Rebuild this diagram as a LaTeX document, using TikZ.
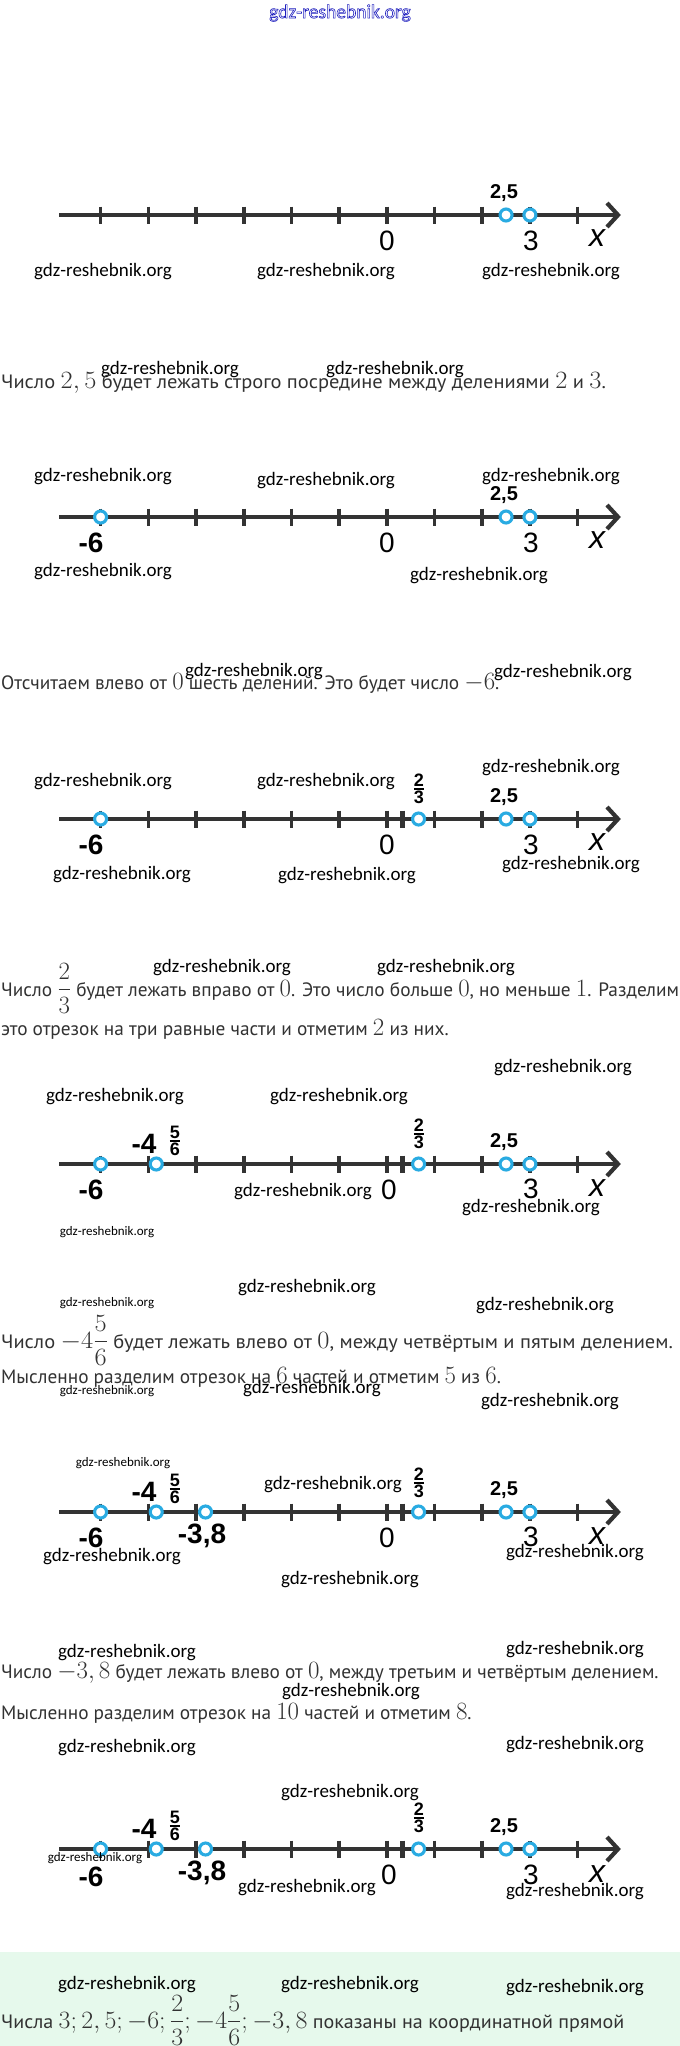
\documentclass[tikz,border=0pt]{standalone}
\usepackage[no-math]{fontspec}
\usepackage{amsmath}
\usepackage{graphicx}
\setmainfont{PT Sans}
\newfontfamily\wmfont{Carlito}
\newfontfamily\labfont{Liberation Sans}
\usetikzlibrary{calc}
\definecolor{axisgray}{RGB}{51,51,51}
\definecolor{ptblue}{RGB}{41,171,226}
\definecolor{txtgray}{RGB}{50,50,50}
\definecolor{boxgreen}{RGB}{230,249,236}
\definecolor{hdrblue}{RGB}{30,30,190}
\tikzset{
  axisln/.style={line width=4.2pt, draw=axisgray},
  tickln/.style={line width=3.6pt, draw=axisgray},
  thirdtick/.style={line width=5pt, draw=axisgray},
  ptmark/.style={circle, draw=ptblue, fill=white, line width=3.1pt, minimum size=12pt, inner sep=0pt},
  wm/.style={font=\wmfont\fontsize{19}{19}\selectfont, text=black, inner sep=0pt},
  wms/.style={font=\wmfont\fontsize{13}{13}\selectfont, text=black, inner sep=0pt},
  hdr/.style={font=\wmfont\fontsize{19.5}{19.5}\selectfont, text=hdrblue, inner sep=0pt},
  lab/.style={font=\labfont\fontsize{28}{28}\selectfont, text=black, inner sep=0pt},
  labb/.style={font=\labfont\bfseries\fontsize{28}{28}\selectfont, text=black, inner sep=0pt},
  labs/.style={font=\labfont\bfseries\fontsize{20}{20}\selectfont, text=black, inner sep=0pt},
  labf/.style={font=\labfont\bfseries\fontsize{18}{18}\selectfont, text=black, inner sep=0pt},
  labx/.style={font=\labfont\itshape\fontsize{32}{32}\selectfont, text=black, inner sep=0pt},
  body/.style={font=\fontsize{19.3}{24}\selectfont, text=txtgray, anchor=base west, inner sep=0pt},
}
\newcommand{\mth}[1]{{\fontsize{23.5}{24}\selectfont$#1$}}
\newcommand{\drawaxis}[2]{%
  \coordinate (#1o) at (386.8,#2);
  \coordinate (#1s) at (59,#2);
  \coordinate (#1e) at (618,#2);
  \draw[axisln] (#1s) -- ($(#1e)+(-2,0)$);
  \draw[axisln,line join=miter,miter limit=10] ($(#1e)+(-11,-12)$) -- (#1e) -- ($(#1e)+(-11,12)$);
  \foreach \k in {-6,...,4}{\draw[tickln] ($(#1o)+(\k*47.7,-8.5)$) -- ($(#1o)+(\k*47.7,8.5)$);}
}
\newcommand{\thirdmark}[1]{\draw[thirdtick] ($(#1o)+(15.9,-8.5)$) -- ($(#1o)+(15.9,8.5)$);}
\newcommand{\mkpt}[3]{\node[ptmark] (#1) at ($(#2o)+(#3*47.7,0)$) {};}
\newcommand{\vfrac}[2]{$\genfrac{}{}{1.6pt}{}{\hbox{#1}}{\hbox{#2}}$}
\begin{document}
\begin{tikzpicture}[x=1pt,y=-1pt]
\useasboundingbox (0,0) rectangle (680,2046);
\fill[white] (0,0) rectangle (680,2046);
\fill[boxgreen] (0,1952) rectangle (680,2046);

% header
\node[hdr] (hdr) at (340,13) {\special{pdf:literal direct 1 Tr 0.6 w}gdz-reshebnik.org\special{pdf:literal direct 0 Tr}};

% ---------- line 1 ----------
\drawaxis{a}{215}
\mkpt{a25}{a}{2.5}
\mkpt{a3}{a}{3}
\node[labs] (a25l) at (504,193) {2,5};
\node[lab] (a0l) at (387,241) {0};
\node[lab] (a3l) at (531,241) {3};
\node[labx] (axl) at (597,238) {x};
\node[wm] (w1) at (103,272) {gdz-reshebnik.org};
\node[wm] (w2) at (326,272) {gdz-reshebnik.org};
\node[wm] (w3) at (551,272) {gdz-reshebnik.org};

% text 1
\node[wm] (w4) at (170,370) {gdz-reshebnik.org};
\node[wm] (w5) at (395,370) {gdz-reshebnik.org};
\node[body] (t1) at (1,388) {\scalebox{1.06}[1]{Число \mth{2,5} будет лежать строго посредине между делениями \mth{2} и \mth{3}.}};

% ---------- line 2 ----------
\node[wm] (w6) at (103,477) {gdz-reshebnik.org};
\node[wm] (w7) at (326,481) {gdz-reshebnik.org};
\node[wm] (w8) at (551,477) {gdz-reshebnik.org};
\drawaxis{b}{517}
\mkpt{bm6}{b}{-6}
\mkpt{b25}{b}{2.5}
\mkpt{b3}{b}{3}
\node[labs] (b25l) at (504,495) {2,5};
\node[labb] (bm6l) at (91,543) {-6};
\node[lab] (b0l) at (387,543) {0};
\node[lab] (b3l) at (531,543) {3};
\node[labx] (bxl) at (597,540) {x};
\node[wm] (w9) at (103,572) {gdz-reshebnik.org};
\node[wm] (w10) at (479,576) {gdz-reshebnik.org};

% text 2
\node[wm] (w11) at (254,672) {gdz-reshebnik.org};
\node[wm] (w12) at (563,673) {gdz-reshebnik.org};
\node[body] (t2) at (1,689) {Отсчитаем влево от \mth{0} шесть делений. Это будет число \mth{-6}.};

% ---------- line 3 ----------
\node[wm] (w13) at (103,782) {gdz-reshebnik.org};
\node[wm] (w14) at (326,782) {gdz-reshebnik.org};
\node[wm] (w15) at (551,768) {gdz-reshebnik.org};
\drawaxis{c}{819}
\thirdmark{c}
\mkpt{cm6}{c}{-6}
\mkpt{c23}{c}{2/3}
\mkpt{c25}{c}{2.5}
\mkpt{c3}{c}{3}
\node[labf] (c23l) at (419,789) {\vfrac{2}{3}};
\node[labs] (c25l) at (504,797) {2,5};
\node[labb] (cm6l) at (91,845) {-6};
\node[lab] (c0l) at (387,845) {0};
\node[lab] (c3l) at (531,845) {3};
\node[labx] (cxl) at (597,842) {x};
\node[wm] (w16) at (122,875) {gdz-reshebnik.org};
\node[wm] (w17) at (347,876) {gdz-reshebnik.org};
\node[wm] (w18) at (571,865) {gdz-reshebnik.org};

% text 3
\node[wm] (w19) at (222,968) {gdz-reshebnik.org};
\node[wm] (w20) at (446,968) {gdz-reshebnik.org};
\node[body] (t3a) at (1,996) {Число \mth{\dfrac{2}{3}} будет лежать вправо от \mth{0}. Это число больше \mth{0}, но меньше \mth{1}. Разделим};
\node[body] (t3b) at (1,1035) {это отрезок на три равные части и отметим \mth{2} из них.};

% ---------- line 4 ----------
\node[wm] (w21) at (563,1068) {gdz-reshebnik.org};
\node[wm] (w22) at (115,1097) {gdz-reshebnik.org};
\node[wm] (w23) at (339,1097) {gdz-reshebnik.org};
\drawaxis{d}{1164}
\thirdmark{d}
\mkpt{dm6}{d}{-6}
\mkpt{dm456}{d}{-29/6}
\mkpt{d23}{d}{2/3}
\mkpt{d25}{d}{2.5}
\mkpt{d3}{d}{3}
\node[labb] (dm4l) at (144,1144) {-4};
\node[labf] (d56l) at (175,1141) {\vfrac{5}{6}};
\node[labf] (d23l) at (419,1134) {\vfrac{2}{3}};
\node[labs] (d25l) at (504,1142) {2,5};
\node[labb] (dm6l) at (91,1190) {-6};
\node[wm] (w24) at (303,1192) {gdz-reshebnik.org};
\node[lab] (d0l) at (389,1190) {0};
\node[lab] (d3l) at (531,1189) {3};
\node[labx] (dxl) at (597,1188) {x};
\node[wm] (w25) at (531,1208) {gdz-reshebnik.org};
\node[wms] (w26) at (107,1232) {gdz-reshebnik.org};

% text 4
\node[wm] (w27) at (307,1288) {gdz-reshebnik.org};
\node[wms] (w28) at (107,1303) {gdz-reshebnik.org};
\node[wm] (w29) at (545,1306) {gdz-reshebnik.org};
\node[body] (t4a) at (1,1348) {\scalebox{1.06}[1]{Число \mth{-4\dfrac{5}{6}} будет лежать влево от \mth{0}, между четвёртым и пятым делением.}};
\node[body] (t4b) at (1,1383) {Мысленно разделим отрезок на \mth{6} частей и отметим \mth{5} из \mth{6}.};
\node[wms] (w30) at (107,1391) {gdz-reshebnik.org};
\node[wm] (w31) at (312,1389) {gdz-reshebnik.org};
\node[wm] (w32) at (550,1402) {gdz-reshebnik.org};

% ---------- line 5 ----------
\node[wms] (w33) at (123,1463) {gdz-reshebnik.org};
\node[wm] (w34) at (333,1485) {gdz-reshebnik.org};
\drawaxis{e}{1512}
\thirdmark{e}
\mkpt{em6}{e}{-6}
\mkpt{em456}{e}{-29/6}
\mkpt{em38}{e}{-3.8}
\mkpt{e23}{e}{2/3}
\mkpt{e25}{e}{2.5}
\mkpt{e3}{e}{3}
\node[labb] (em4l) at (144,1492) {-4};
\node[labf] (e56l) at (175,1489) {\vfrac{5}{6}};
\node[labf] (e23l) at (419,1483) {\vfrac{2}{3}};
\node[labs] (e25l) at (504,1490) {2,5};
\node[labb] (em6l) at (91,1538) {-6};
\node[labb] (em38l) at (202,1536) {-3,8};
\node[lab] (e0l) at (387,1538) {0};
\node[lab] (e3l) at (531,1537) {3};
\node[labx] (exl) at (597,1536) {x};
\node[wm] (w35) at (112,1557) {gdz-reshebnik.org};
\node[wm] (w36) at (575,1553) {gdz-reshebnik.org};
\node[wm] (w37) at (350,1580) {gdz-reshebnik.org};

% text 5
\node[wm] (w38) at (127,1653) {gdz-reshebnik.org};
\node[wm] (w39) at (575,1650) {gdz-reshebnik.org};
\node[body] (t5a) at (1,1678) {Число \mth{-3,8} будет лежать влево от \mth{0}, между третьим и четвёртым делением.};
\node[wm] (w40) at (351,1692) {gdz-reshebnik.org};
\node[body] (t5b) at (1,1719) {Мысленно разделим отрезок на \mth{10} частей и отметим \mth{8}.};
\node[wm] (w41) at (127,1748) {gdz-reshebnik.org};
\node[wm] (w42) at (575,1745) {gdz-reshebnik.org};

% ---------- line 6 ----------
\node[wm] (w43) at (350,1793) {gdz-reshebnik.org};
\drawaxis{f}{1849}
\thirdmark{f}
\mkpt{fm6}{f}{-6}
\mkpt{fm456}{f}{-29/6}
\mkpt{fm38}{f}{-3.8}
\mkpt{f23}{f}{2/3}
\mkpt{f25}{f}{2.5}
\mkpt{f3}{f}{3}
\node[labb] (fm4l) at (144,1829) {-4};
\node[labf] (f56l) at (175,1826) {\vfrac{5}{6}};
\node[labf] (f23l) at (419,1818) {\vfrac{2}{3}};
\node[labs] (f25l) at (504,1827) {2,5};
\node[wms] (w44) at (95,1858) {gdz-reshebnik.org};
\node[labb] (fm6l) at (91,1877) {-6};
\node[labb] (fm38l) at (202,1873) {-3,8};
\node[wm] (w45) at (307,1888) {gdz-reshebnik.org};
\node[lab] (f0l) at (389,1875) {0};
\node[lab] (f3l) at (531,1875) {3};
\node[labx] (fxl) at (597,1874) {x};
\node[wm] (w46) at (575,1892) {gdz-reshebnik.org};

% ---------- answer box ----------
\node[wm] (w47) at (127,1985) {gdz-reshebnik.org};
\node[wm] (w48) at (350,1985) {gdz-reshebnik.org};
\node[wm] (w49) at (575,1988) {gdz-reshebnik.org};
\node[body] (t6) at (1,2028) {\scalebox{1.04}[1]{Числа \mth{3; 2,5; -6; \dfrac{2}{3}; -4\dfrac{5}{6}; -3,8} показаны на координатной прямой}};
\end{tikzpicture}
\end{document}
